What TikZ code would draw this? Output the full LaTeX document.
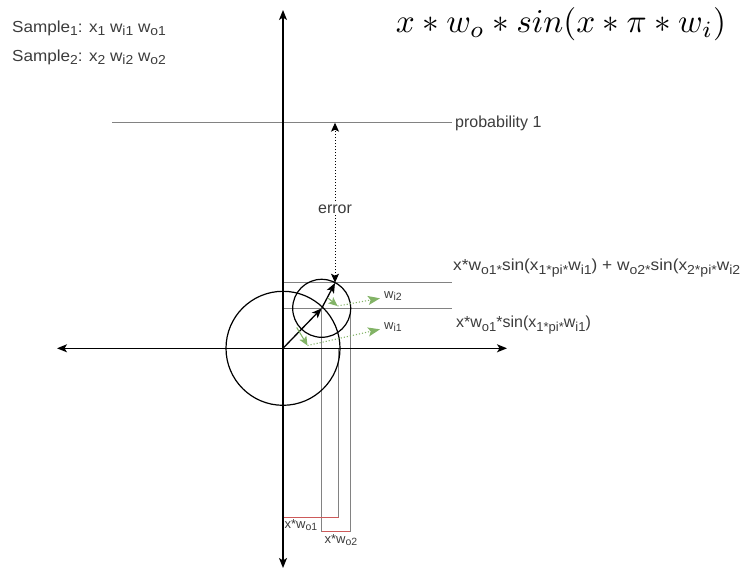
\documentclass[tikz,border=0pt]{standalone}
\usepackage{fontspec}
\setsansfont{Liberation Sans}
\usepackage{graphicx}
\usetikzlibrary{arrows.meta}
\definecolor{txt}{RGB}{60,60,60}
\definecolor{gline}{RGB}{130,130,130}
\definecolor{redl}{RGB}{205,90,90}
\definecolor{grn}{RGB}{130,179,102}
\newcommand{\sbA}[1]{\raisebox{-0.4ex}{\fontsize{13}{13}\selectfont #1}}
\newcommand{\sbB}[1]{\raisebox{-0.4ex}{\fontsize{10.5}{11}\selectfont #1}}
\begin{document}
\begin{tikzpicture}[x=1pt,y=-1pt,
  axisline/.style={line width=1.4pt,black},
  vec/.style={line width=1.3pt,black,-{Stealth[length=10pt,width=8pt,inset=2.5pt]}},
  circ/.style={line width=1.2pt,black},
  gl/.style={line width=0.9pt,gline},
  rl/.style={line width=1pt,redl},
  lbl/.style={font=\sffamily\fontsize{16}{18}\selectfont,text=txt,inner sep=0pt},
  slbl/.style={font=\sffamily\fontsize{13}{15}\selectfont,text=txt,inner sep=0pt},
  garrow/.style={line width=1.1pt,grn,-{Stealth[length=9pt,width=8pt,inset=2pt]}},
  gdot/.style={line width=1.1pt,grn,dotted,-{Stealth[length=12pt,width=9pt,inset=2.5pt]}},
]
\useasboundingbox (0,0) rectangle (741,575);
% coordinates
\coordinate (O) at (283,348.3);
\coordinate (yt) at (283,10);
\coordinate (yb) at (283,568);
\coordinate (xl) at (57,348.3);
\coordinate (xr) at (507,348.3);
\coordinate (P1) at (321.7,308.3);
\coordinate (P2) at (335,283);
% probability line
\coordinate (pl) at (112,122);
\coordinate (pr) at (452,122);
\draw[gl] (pl) -- (pr);
\node[lbl,anchor=west] (prob) at (455,123) {probability 1};
% horizontal grey lines
\coordinate (h1a) at (283,282.7);
\coordinate (h1b) at (452,282.7);
\coordinate (h2a) at (283,308.3);
\coordinate (h2b) at (452,308.3);
\draw[gl] (h1a) -- (h1b);
\draw[gl] (h2a) -- (h2b);
% vertical grey lines
\coordinate (v1a) at (321.7,308.3);
\coordinate (v1b) at (321.7,531.7);
\coordinate (v2a) at (350,308.3);
\coordinate (v2b) at (350,531.7);
\coordinate (v3a) at (338.5,348.3);
\coordinate (v3b) at (338.5,517.7);
\draw[gl] (v1a) -- (v1b);
\draw[gl] (v2a) -- (v2b);
\draw[gl] (v3a) -- (v3b);
% red lines
\coordinate (r1a) at (283,517.7);
\draw[rl] (r1a) -- (v3b);
\draw[rl] (v1b) -- (v2b);
% circles
\draw[circ] (O) circle[radius=57pt];
\draw[circ] (P1) circle[radius=29pt];
% axes
\draw[axisline,{Stealth[length=10pt,width=8pt,inset=2.5pt]}-{Stealth[length=10pt,width=8pt,inset=2.5pt]}] (xl) -- (xr);
\draw[axisline,{Stealth[length=10pt,width=8pt,inset=2.5pt]}-{Stealth[length=10pt,width=8pt,inset=2.5pt]}] (yb) -- (yt);
% vectors
\draw[vec] (O) -- (P1);
\draw[vec] (P1) -- (P2);
% error arrow
\coordinate (e1) at (335,122.7);
\coordinate (e2) at (335,282.7);
\draw[line width=1pt,black,dotted,{Stealth[length=9pt,width=8pt,inset=2pt]}-{Stealth[length=9pt,width=8pt,inset=2pt]}] (e2) -- (e1);
\node[lbl,fill=white,inner sep=2pt] (err) at (335,209) {error};
% green arrows
\coordinate (g1s) at (296.7,327.5);
\coordinate (g1t) at (307.5,345.5);
\coordinate (g1e) at (380,329.3);
\draw[garrow] (g1s) -- (g1t);
\draw[gdot] (g1t) -- (g1e);
\coordinate (g2s) at (328.3,298.3);
\coordinate (g2t) at (337.5,306);
\coordinate (g2e) at (380,298.3);
\draw[garrow] (g2s) -- (g2t);
\draw[gdot] (g2t) -- (g2e);
\node[slbl,anchor=west] (wi2) at (384,296) {w\sbB{i2}};
\node[slbl,anchor=west] (wi1) at (384,327) {w\sbB{i1}};
% right labels
\node[lbl,anchor=west] (la) at (453,268) {\scalebox{1.08}[1]{x*w\sbA{o1*}sin(x\sbA{1*pi*}w\sbA{i1}) + w\sbA{o2*}sin(x\sbA{2*pi*}w\sbA{i2}}};
\node[lbl,anchor=west] (lb) at (456,325) {x*w\sbA{o1}*sin(x\sbA{1*pi*}w\sbA{i1})};
% bottom labels
\node[slbl] (b1) at (301,525) {x*w\sbB{o1}};
\node[slbl] (b2) at (341,540) {x*w\sbB{o2}};
% sample text
\node[lbl,anchor=west] (s1) at (12,28) {\scalebox{1.07}[1]{Sample\sbA{1}: x\sbA{1} w\sbA{i1} w\sbA{o1}}};
\node[lbl,anchor=west] (s2) at (12,57) {\scalebox{1.07}[1]{Sample\sbA{2}: x\sbA{2} w\sbA{i2} w\sbA{o2}}};
% formula
\node[inner sep=0pt] (f) at (561,24) {\resizebox{330pt}{!}{$x * w_o * sin(x * \pi * w_i)$}};
\end{tikzpicture}
\end{document}
